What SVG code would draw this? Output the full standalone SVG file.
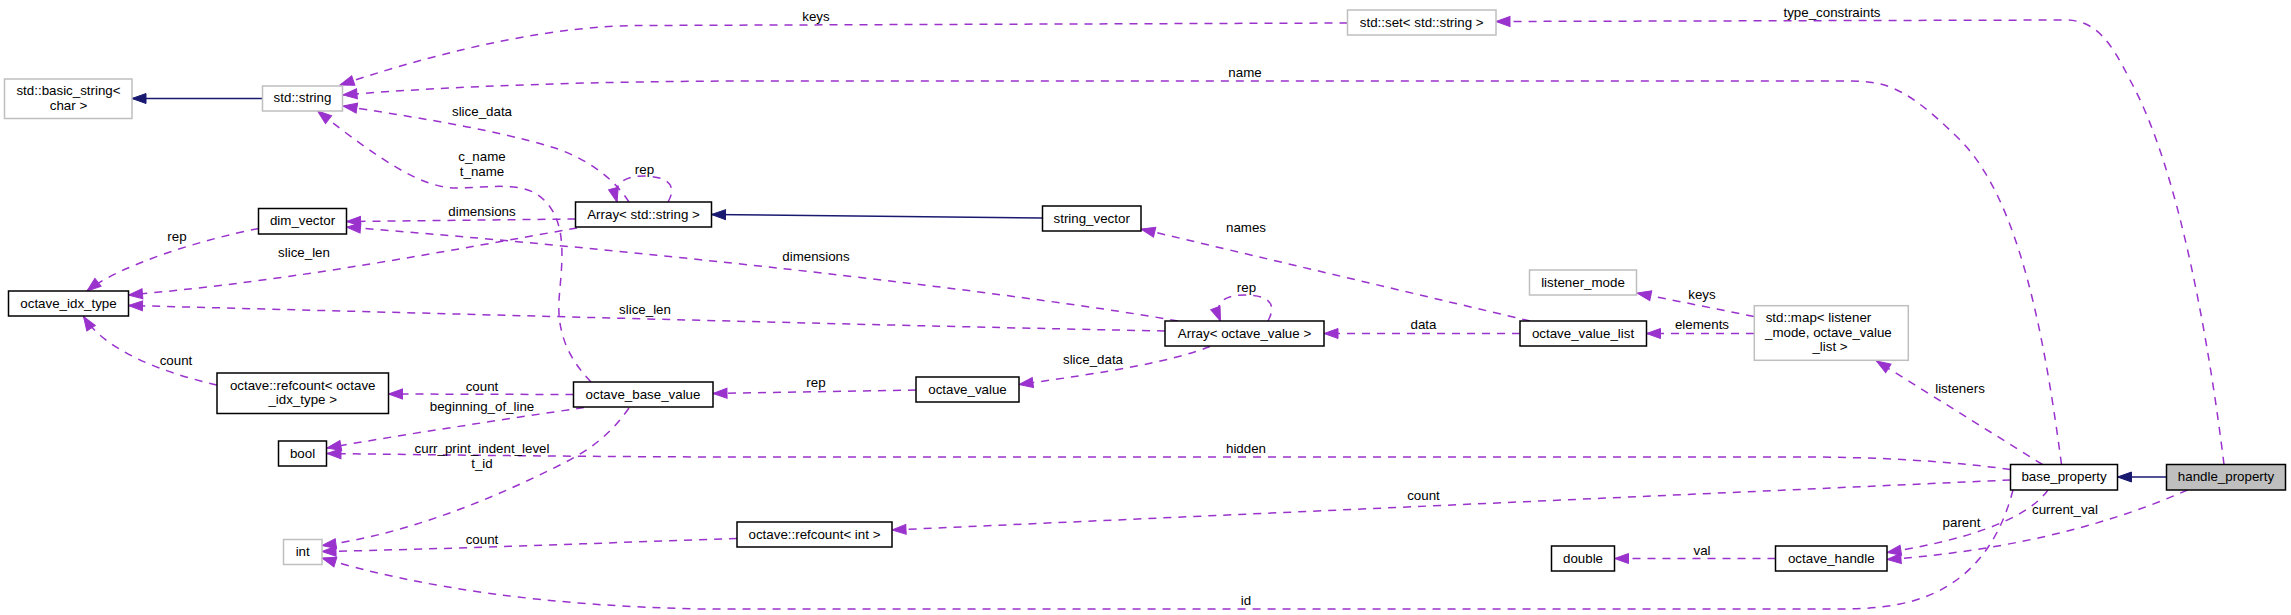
<svg xmlns="http://www.w3.org/2000/svg" width="2291" height="615" viewBox="0 0 2291 615">
<style>
text{font-family:"Liberation Sans",Arial,sans-serif;font-size:13.33px;fill:#000}
.m{text-anchor:middle}
.b{fill:#fff;stroke:#000;stroke-width:1.5}
.g{fill:#fff;stroke:#bfbfbf;stroke-width:1.5}
.cur{fill:#bfbfbf;stroke:#000;stroke-width:1.5}
.inh{fill:none;stroke:#191970;stroke-width:1.5;marker-end:url(#ab)}
.col{fill:none;stroke:#9a32cd;stroke-width:1.5;stroke-dasharray:8,7;marker-end:url(#ap)}
</style>
<defs>
<marker id="ab" markerUnits="userSpaceOnUse" markerWidth="15" markerHeight="11" refX="14" refY="5" orient="auto" overflow="visible"><path d="M0,0 L14,5 L0,10 z" fill="#191970" stroke="#191970" stroke-width="1"/></marker>
<marker id="ap" markerUnits="userSpaceOnUse" markerWidth="15" markerHeight="11" refX="14" refY="5" orient="auto" overflow="visible"><path d="M0,0 L14,5 L0,10 z" fill="#9a32cd" stroke="#9a32cd" stroke-width="1"/></marker>
</defs>
<rect width="2291" height="615" fill="#fff"/>
<g id="edges">
<path class="inh" d="M262.5,98.5 L132,98.5"/>
<path class="inh" d="M1042.5,218 L711.5,214.5"/>
<path class="inh" d="M2166.5,477 L2117.5,477"/>
<path class="col" d="M1347.5,23 L640,25.5 C560,26 460,45 340,85"/>
<text class="m" x="816" y="21">keys</text>
<path class="col" d="M2061.5,464.5 C2045,340 2020,200 1960,140 S1880,81 1840,81 L760,81 C600,81 450,86 343,95"/>
<text class="m" x="1245" y="77">name</text>
<path class="col" d="M2224,464.5 C2210,350 2180,170 2130,80 C2110,40 2095,20 2065,20 L1496,21.5"/>
<text class="m" x="1832" y="16.5">type_constraints</text>
<path class="col" d="M629,202 C615,180 590,160 555,148 C490,128 400,115 343,106"/>
<text class="m" x="482" y="115.5">slice_data</text>
<path class="col" d="M668,202 C676,188 672,177 645,176 C625,176 612,183 617,202"/>
<text class="m" x="644.5" y="173.5">rep</text>
<path class="col" d="M591,382 C570,360 557,335 559,300 C562,260 570,215 535,193 C515,182 485,188 455,188 C420,187 380,160 317.5,111"/>
<text class="m" x="482" y="161">c_name</text>
<text class="m" x="482" y="176">t_name</text>
<path class="col" d="M575.5,219 L346.5,221.5"/>
<text class="m" x="482" y="216">dimensions</text>
<path class="col" d="M1178,321 C1050,298 700,255 346.5,227"/>
<text class="m" x="816" y="261">dimensions</text>
<path class="col" d="M577,228 C450,250 300,280 128.5,295"/>
<text class="m" x="304" y="257">slice_len</text>
<path class="col" d="M258.5,228.5 C200,240 120,265 87,291"/>
<text class="m" x="177" y="240.5">rep</text>
<path class="col" d="M1165,331 C900,326 500,315 128.5,305.5"/>
<text class="m" x="645" y="313.5">slice_len</text>
<path class="col" d="M217,385 C160,372 105,350 83.5,316.5"/>
<text class="m" x="176" y="364.5">count</text>
<path class="col" d="M573.5,394.5 L388.5,394"/>
<text class="m" x="482" y="391">count</text>
<path class="col" d="M584,407.5 C500,420 400,435 327,448"/>
<text class="m" x="482" y="411">beginning_of_line</text>
<path class="col" d="M2010.5,469.5 C1940,460 1870,457 1800,457 L760,457 C600,457 450,455 327,453.5"/>
<text class="m" x="1246" y="453">hidden</text>
<path class="col" d="M629,408 C610,435 590,450 560,465 C480,505 400,535 322,545.5"/>
<text class="m" x="482" y="453">curr_print_indent_level</text>
<text class="m" x="482" y="468">t_id</text>
<path class="col" d="M737,538.5 C600,543 450,549 322,551.5"/>
<text class="m" x="482" y="543.5">count</text>
<path class="col" d="M2013,490 C2000,540 1970,590 1900,604 C1880,608 1860,609 1840,609 L700,609 C550,606 420,588 322,558"/>
<text class="m" x="1246" y="605">id</text>
<path class="col" d="M916,390 L713,393.5"/>
<text class="m" x="816" y="387">rep</text>
<path class="col" d="M1210,346.5 C1170,362 1110,372 1019,384.5"/>
<text class="m" x="1093" y="363.5">slice_data</text>
<path class="col" d="M1268,321 C1276,306 1272,295 1245,295 C1225,295 1213,302 1220.5,321"/>
<text class="m" x="1246.5" y="292">rep</text>
<path class="col" d="M1520,333.5 L1324,333.5"/>
<text class="m" x="1423.5" y="329">data</text>
<path class="col" d="M1530,321 L1141,229"/>
<text class="m" x="1246" y="231.5">names</text>
<path class="col" d="M1754,333.5 L1646.5,333.5"/>
<text class="m" x="1702" y="329">elements</text>
<path class="col" d="M1754,316.5 L1637,293"/>
<text class="m" x="1702" y="299">keys</text>
<path class="col" d="M2042.5,464.5 L1876.5,361"/>
<text class="m" x="1960" y="393">listeners</text>
<path class="col" d="M2010.5,480 L892,530"/>
<text class="m" x="1423.5" y="500">count</text>
<path class="col" d="M2048,490 C2030,515 1980,538 1887,552.5"/>
<text class="m" x="1961.5" y="527">parent</text>
<path class="col" d="M2187.5,490 C2120,520 2020,550 1887,559.5"/>
<text class="m" x="2065" y="513.5">current_val</text>
<path class="col" d="M1775.5,558.5 L1614.5,558.5"/>
<text class="m" x="1702" y="555">val</text>
</g>
<g id="n_basic_string"><rect class="g" x="4.5" y="79" width="127.5" height="39.5"/><text class="m" x="68.5" y="95">std::basic_string&lt;</text><text class="m" x="68.5" y="109.5">char &gt;</text></g>
<g id="n_std_string"><rect class="g" x="262.5" y="86" width="80" height="25"/><text class="m" x="302.5" y="102">std::string</text></g>
<g id="n_dim_vector"><rect class="b" x="258.5" y="208.5" width="88" height="25.5"/><text class="m" x="302.5" y="225">dim_vector</text></g>
<g id="n_array_string"><rect class="b" x="575.5" y="202" width="136" height="25"/><text class="m" x="643.5" y="218.5">Array&lt; std::string &gt;</text></g>
<g id="n_octave_idx_type"><rect class="b" x="8.5" y="291" width="120" height="25"/><text class="m" x="68.5" y="307.5">octave_idx_type</text></g>
<g id="n_refcount_idx"><rect class="b" x="217" y="373" width="171.5" height="40.5"/><text class="m" x="302.7" y="389.5">octave::refcount&lt; octave</text><text class="m" x="302.7" y="404">_idx_type &gt;</text></g>
<g id="n_octave_base_value"><rect class="b" x="573.5" y="382" width="139.5" height="25"/><text class="m" x="643" y="398.5">octave_base_value</text></g>
<g id="n_bool"><rect class="b" x="278.5" y="441" width="48" height="25"/><text class="m" x="302.5" y="457.5">bool</text></g>
<g id="n_int"><rect class="g" x="283.5" y="539.5" width="38.5" height="25"/><text class="m" x="302.7" y="556">int</text></g>
<g id="n_refcount_int"><rect class="b" x="737" y="522" width="155" height="25"/><text class="m" x="814.5" y="538.5">octave::refcount&lt; int &gt;</text></g>
<g id="n_std_set"><rect class="g" x="1347.5" y="10" width="148.5" height="25"/><text class="m" x="1421.7" y="26.5">std::set&lt; std::string &gt;</text></g>
<g id="n_string_vector"><rect class="b" x="1042.5" y="206" width="98.5" height="25"/><text class="m" x="1091.7" y="222.5">string_vector</text></g>
<g id="n_array_octave_value"><rect class="b" x="1165" y="321" width="159" height="25"/><text class="m" x="1244.5" y="337.5">Array&lt; octave_value &gt;</text></g>
<g id="n_octave_value"><rect class="b" x="916" y="377" width="103" height="25"/><text class="m" x="967.5" y="393.5">octave_value</text></g>
<g id="n_octave_value_list"><rect class="b" x="1520" y="321" width="126.5" height="25"/><text class="m" x="1583" y="337.5">octave_value_list</text></g>
<g id="n_listener_mode"><rect class="g" x="1529.5" y="270" width="107" height="25"/><text class="m" x="1583" y="286.5">listener_mode</text></g>
<g id="n_std_map"><rect class="g" x="1754.3" y="305.7" width="154" height="54.6"/><text x="1765.7" y="322">std::map&lt; listener</text><text x="1765" y="336.5">_mode, octave_value</text><text class="m" x="1830" y="351">_list &gt;</text></g>
<g id="n_base_property"><rect class="b" x="2010.5" y="464.5" width="107" height="25.5"/><text class="m" x="2064" y="481">base_property</text></g>
<g id="n_handle_property"><rect class="cur" x="2166.5" y="464.5" width="119" height="25.5"/><text class="m" x="2226" y="481">handle_property</text></g>
<g id="n_double"><rect class="b" x="1551.5" y="546" width="63" height="25"/><text class="m" x="1583" y="562.5">double</text></g>
<g id="n_octave_handle"><rect class="b" x="1775.5" y="546" width="111.5" height="25"/><text class="m" x="1831.3" y="562.5">octave_handle</text></g>
</svg>
